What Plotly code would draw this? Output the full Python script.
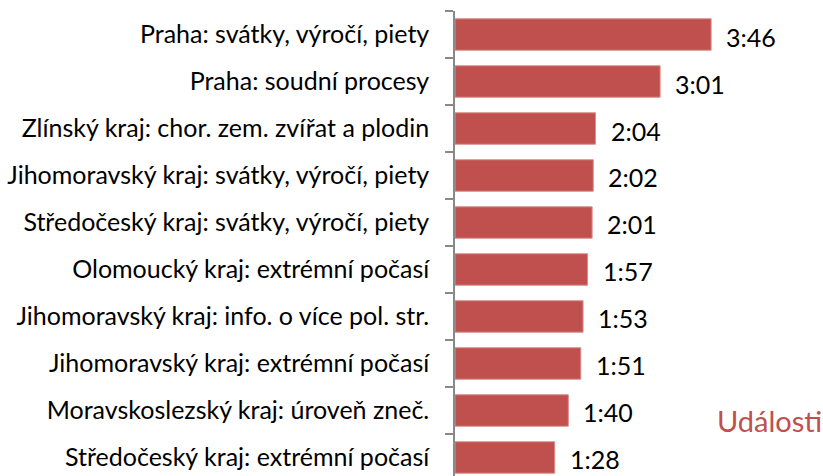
import plotly.graph_objects as go

# Average programme length per event category (seconds)
categories = [
    "Praha: svátky, výročí, piety",
    "Praha: soudní procesy",
    "Zlínský kraj: chor. zem. zvířat a plodin",
    "Jihomoravský kraj: svátky, výročí, piety",
    "Středočeský kraj: svátky, výročí, piety",
    "Olomoucký kraj: extrémní počasí",
    "Jihomoravský kraj: info. o více pol. str.",
    "Jihomoravský kraj: extrémní počasí",
    "Moravskoslezský kraj: úroveň zneč.",
    "Středočeský kraj: extrémní počasí",
]
seconds = [226, 181, 124, 122, 121, 117, 113, 111, 100, 88]
series_name = "Události"

BAR = "#C0504D"
FONT = "Lato"
SIZE = 25


def mmss(s):
    return f"{s // 60}:{s % 60:02d}"


fig = go.Figure(
    go.Bar(
        x=seconds,
        y=categories,
        orientation="h",
        name=series_name,
        marker=dict(color=BAR, line=dict(color="#D9908E", width=1)),
        width=0.67,
        hoverinfo="x+y",
    )
)

for c, s in zip(categories, seconds):
    fig.add_annotation(
        x=s, y=c, xref="x", yref="y",
        text=mmss(s), showarrow=False,
        xanchor="left", yanchor="middle", xshift=13, yshift=-2,
        font=dict(family=FONT, size=SIZE, color="#000000"),
    )

fig.add_annotation(
    x=(715 - 455) / 340, y=0.12, xref="paper", yref="paper",
    text=series_name, showarrow=False,
    xanchor="left", yanchor="middle",
    font=dict(family=FONT, size=29, color=BAR),
)

fig.update_layout(
    width=823, height=476,
    margin=dict(l=455, r=28, t=11, b=0, pad=0),
    paper_bgcolor="white", plot_bgcolor="white",
    showlegend=False,
    font=dict(family=FONT, size=SIZE, color="#000000"),
    xaxis=dict(visible=False, range=[0, 300]),
    yaxis=dict(
        type="category",
        range=[9.394, -0.5],
        showline=True, linecolor="#898989", linewidth=1.5,
        ticks="outside", tickson="boundaries", ticklen=8,
        tickcolor="#898989", tickwidth=1.5,
        ticklabelstandoff=19,
        showgrid=False, zeroline=False,
        tickfont=dict(family=FONT, size=SIZE, color="#000000"),
    ),
)

fig.write_html("out.html")
